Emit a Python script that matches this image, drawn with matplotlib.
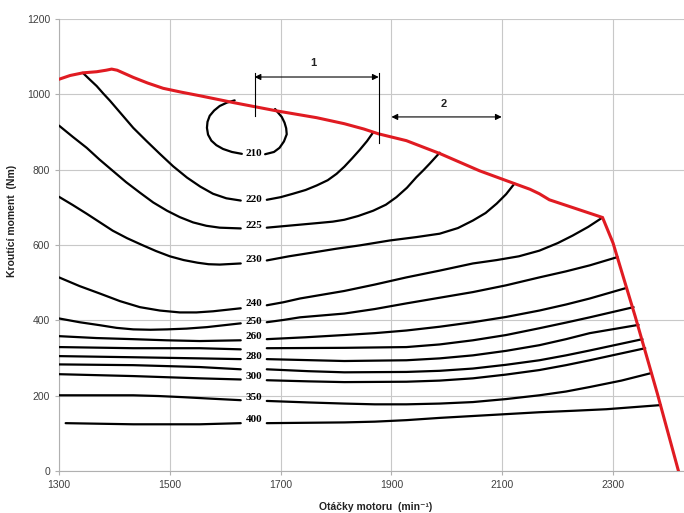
import numpy as np
import matplotlib
matplotlib.use("Agg")
import matplotlib.pyplot as plt

# ---- data (rpm, torque Nm) ----
max_rpm = [1300, 1320, 1343, 1368, 1385, 1395, 1405, 1434, 1460, 1488, 1520, 1555, 1615, 1693, 1765,
           1815, 1850, 1877, 1927, 1987, 2059, 2122, 2150, 2167, 2185, 2230, 2281, 2300, 2340,
           2380, 2418]
max_nm = [1040, 1050, 1057, 1060, 1064, 1067, 1064, 1045, 1030, 1016, 1006, 996, 978, 956, 938,
          922, 908, 895, 877, 843, 797, 763, 748, 736, 720, 698, 673, 605, 410,
          205, 0]

rpm_210 = [1617, 1603, 1590, 1580, 1572, 1568, 1567, 1569, 1575, 1584, 1596, 1612, 1630,
           1672, 1688, 1698, 1706, 1711, 1710, 1707, 1702, 1695, 1690]
nm_210 = [984, 978, 969, 957, 943, 927, 911, 893, 877, 865, 855, 847, 842,
          841, 847, 858, 875, 894, 910, 925, 940, 952, 961]

rpm_220 = [1343, 1355, 1368, 1380, 1392, 1413, 1434, 1458, 1482, 1506, 1531, 1555, 1578, 1602,
           1628, 1675, 1700, 1722, 1745, 1765, 1785, 1801, 1815, 1829, 1843, 1856, 1867]
nm_220 = [1057, 1040, 1022, 1002, 983, 947, 911, 876, 842, 809, 779, 755, 736, 724,
          718, 720, 727, 736, 746, 758, 772, 789, 808, 830, 853, 876, 899]

rpm_225 = [1300, 1325, 1350, 1373, 1397, 1421, 1446, 1470, 1495, 1518, 1542, 1566, 1590, 1628,
           1675, 1705, 1735, 1765, 1794, 1815, 1840, 1867, 1890, 1909, 1928, 1945, 1958, 1969, 1987]
nm_225 = [917, 887, 858, 827, 797, 767, 739, 713, 691, 674, 660, 651, 646, 644,
          646, 650, 654, 658, 662, 667, 677, 691, 707, 727, 752, 780, 799, 816, 845]

rpm_230 = [1300, 1325, 1350, 1374, 1397, 1423, 1450, 1475, 1500, 1525, 1550, 1570, 1590, 1628,
           1675, 1715, 1758, 1800, 1843, 1897, 1945, 1987, 2020, 2047, 2070, 2090, 2107, 2122]
nm_230 = [728, 706, 683, 660, 638, 618, 600, 584, 570, 560, 553, 549, 548, 551,
          559, 570, 580, 590, 599, 612, 621, 630, 645, 665, 685, 710, 735, 763]

rpm_240 = [1300, 1337, 1374, 1410, 1446, 1482, 1518, 1548, 1578, 1628, 1675, 1705, 1735, 1775,
           1815, 1870, 1927, 1987, 2047, 2090, 2130, 2167, 2200, 2227, 2255, 2281]
nm_240 = [514, 491, 471, 451, 435, 426, 421, 421, 424, 432, 440, 448, 458, 468,
          478, 495, 514, 532, 551, 560, 570, 585, 605, 625, 648, 673]

rpm_250 = [1300, 1337, 1374, 1404, 1434, 1465, 1495, 1530, 1567, 1628, 1675, 1705, 1735, 1775,
           1815, 1870, 1927, 1987, 2047, 2107, 2167, 2215, 2258, 2308]
nm_250 = [405, 395, 387, 380, 376, 375, 376, 378, 382, 392, 395, 401, 408, 413,
          418, 430, 445, 460, 475, 493, 514, 530, 546, 568]

rpm_260 = [1300, 1367, 1434, 1494, 1554, 1628, 1675, 1745, 1815, 1870, 1927, 1987, 2047, 2107,
           2167, 2215, 2258, 2324]
nm_260 = [358, 353, 350, 347, 345, 347, 350, 355, 361, 366, 373, 383, 395, 409,
          426, 442, 458, 486]

rpm_270 = [1300, 1434, 1554, 1628, 1675, 1815, 1927, 1987, 2047, 2107, 2167, 2215, 2258, 2337]
nm_270 = [329, 326, 326, 323, 326, 327, 329, 336, 347, 361, 379, 394, 408, 435]

rpm_280 = [1300, 1434, 1554, 1628, 1675, 1815, 1927, 1987, 2047, 2107, 2167, 2215, 2258, 2346]
nm_280 = [305, 302, 299, 297, 297, 292, 294, 299, 307, 319, 334, 350, 366, 388]

rpm_290 = [1300, 1434, 1554, 1628, 1675, 1750, 1815, 1927, 1987, 2047, 2107, 2167, 2215, 2258, 2353]
nm_290 = [283, 281, 276, 270, 270, 265, 262, 263, 266, 272, 282, 294, 307, 320, 350]

rpm_300 = [1300, 1434, 1554, 1628, 1675, 1750, 1815, 1927, 1987, 2047, 2107, 2167, 2215, 2258, 2358]
nm_300 = [257, 252, 246, 243, 241, 238, 236, 237, 240, 246, 256, 268, 281, 294, 326]

rpm_350 = [1300, 1434, 1480, 1524, 1575, 1628, 1675, 1750, 1815, 1870, 1927, 1987, 2047, 2107,
           2167, 2215, 2258, 2315, 2369]
nm_350 = [201, 201, 199, 196, 192, 188, 186, 182, 179, 177, 177, 179, 183, 191,
          201, 211, 223, 240, 260]

rpm_400 = [1312, 1434, 1554, 1628, 1675, 1815, 1870, 1927, 1987, 2047, 2107, 2167, 2230, 2288, 2386]
nm_400 = [127, 124, 124, 127, 127, 129, 131, 135, 141, 146, 151, 156, 160, 164, 175]

contour_labels = ["210", "220", "225", "230", "240", "250", "260", "280", "300", "350", "400"]
label_rpm = [1652] * 11
label_nm = [842, 720, 652, 561, 445, 397, 358, 305, 252, 196, 138]

x_ticks = [1300, 1500, 1700, 1900, 2100, 2300]
y_ticks = [0, 200, 400, 600, 800, 1000, 1200]

# range annotations
range1 = [1653, 1877]
range1_nm = 1046
range1_vlines_bottom = [943, 872]
range1_vlines_top = 1057
range2 = [1900, 2099]
range2_nm = 940

# ---- plot ----
fig = plt.figure(figsize=(6.84, 5.13), dpi=100)
ax = fig.add_axes([59 / 684, 1 - 471 / 513, 1 - 59 / 684, (471 - 19) / 513])
ax.set_xlim(1300, 2428)
ax.set_ylim(0, 1200)
ax.set_xticks(x_ticks)
ax.set_yticks(y_ticks)
ax.grid(True, color="#c8c8c8", lw=0.8)
ax.set_axisbelow(True)
for s in ["top", "right"]:
    ax.spines[s].set_visible(False)
for s in ["left", "bottom"]:
    ax.spines[s].set_color("#b0b0b0")
    ax.spines[s].set_linewidth(0.8)
ax.tick_params(axis="both", colors="#b0b0b0", length=3, width=0.8,
               labelcolor="#404040", labelsize=7.5)
for lab in ax.get_xticklabels() + ax.get_yticklabels():
    lab.set_family("Liberation Sans")

contours = [(rpm_210, nm_210), (rpm_220, nm_220), (rpm_225, nm_225), (rpm_230, nm_230),
            (rpm_240, nm_240), (rpm_250, nm_250), (rpm_260, nm_260), (rpm_270, nm_270),
            (rpm_280, nm_280), (rpm_290, nm_290), (rpm_300, nm_300), (rpm_350, nm_350),
            (rpm_400, nm_400)]
split = 1650
for xs, ys in contours:
    xs = np.asarray(xs, float)
    ys = np.asarray(ys, float)
    side = xs > split
    idx = int(np.argmax(side[1:] != side[:-1])) + 1
    ax.plot(xs[:idx], ys[:idx], color="black", lw=1.6, solid_capstyle="round",
            solid_joinstyle="round", zorder=3)
    ax.plot(xs[idx:], ys[idx:], color="black", lw=1.6, solid_capstyle="round",
            solid_joinstyle="round", zorder=3)

for t, lx, ly in zip(contour_labels, label_rpm, label_nm):
    ax.text(lx, ly, t, ha="center", va="center", fontsize=8, fontweight="bold",
            family="Liberation Serif", zorder=4)

ax.plot(max_rpm, max_nm, color="#e01b22", lw=2.2, zorder=5, solid_joinstyle="round")

# annotation 1
for xv, yb in zip(range1, range1_vlines_bottom):
    ax.plot([xv, xv], [range1_vlines_top, yb], color="black", lw=0.8, zorder=6)
ax.annotate("", xy=(range1[0], range1_nm), xytext=(range1[1], range1_nm),
            arrowprops=dict(arrowstyle="<|-|>", color="black", lw=0.8,
                            mutation_scale=9, shrinkA=0, shrinkB=0), zorder=6)
ax.text(1759, 1083, "1", ha="center", va="center", fontsize=8,
        fontweight="bold", family="Liberation Sans", color="#222222")
ax.annotate("", xy=(range2[0], range2_nm), xytext=(range2[1], range2_nm),
            arrowprops=dict(arrowstyle="<|-|>", color="black", lw=0.8,
                            mutation_scale=9, shrinkA=0, shrinkB=0), zorder=6)
ax.text(1994, 975, "2", ha="center", va="center", fontsize=8,
        fontweight="bold", family="Liberation Sans", color="#222222")

fig.text(376 / 684, 1 - 507 / 513, "Otáčky motoru  (min⁻¹)", ha="center", va="center",
         fontsize=7.5, fontweight="bold", family=["Liberation Sans", "DejaVu Sans"], color="#222222")
fig.text(12 / 684, 1 - 221 / 513, "Kroutící moment  (Nm)", ha="center", va="center",
         rotation=90, fontsize=7.5, fontweight="bold", family="Liberation Sans", color="#222222")

fig.savefig("out.png", dpi=100)
